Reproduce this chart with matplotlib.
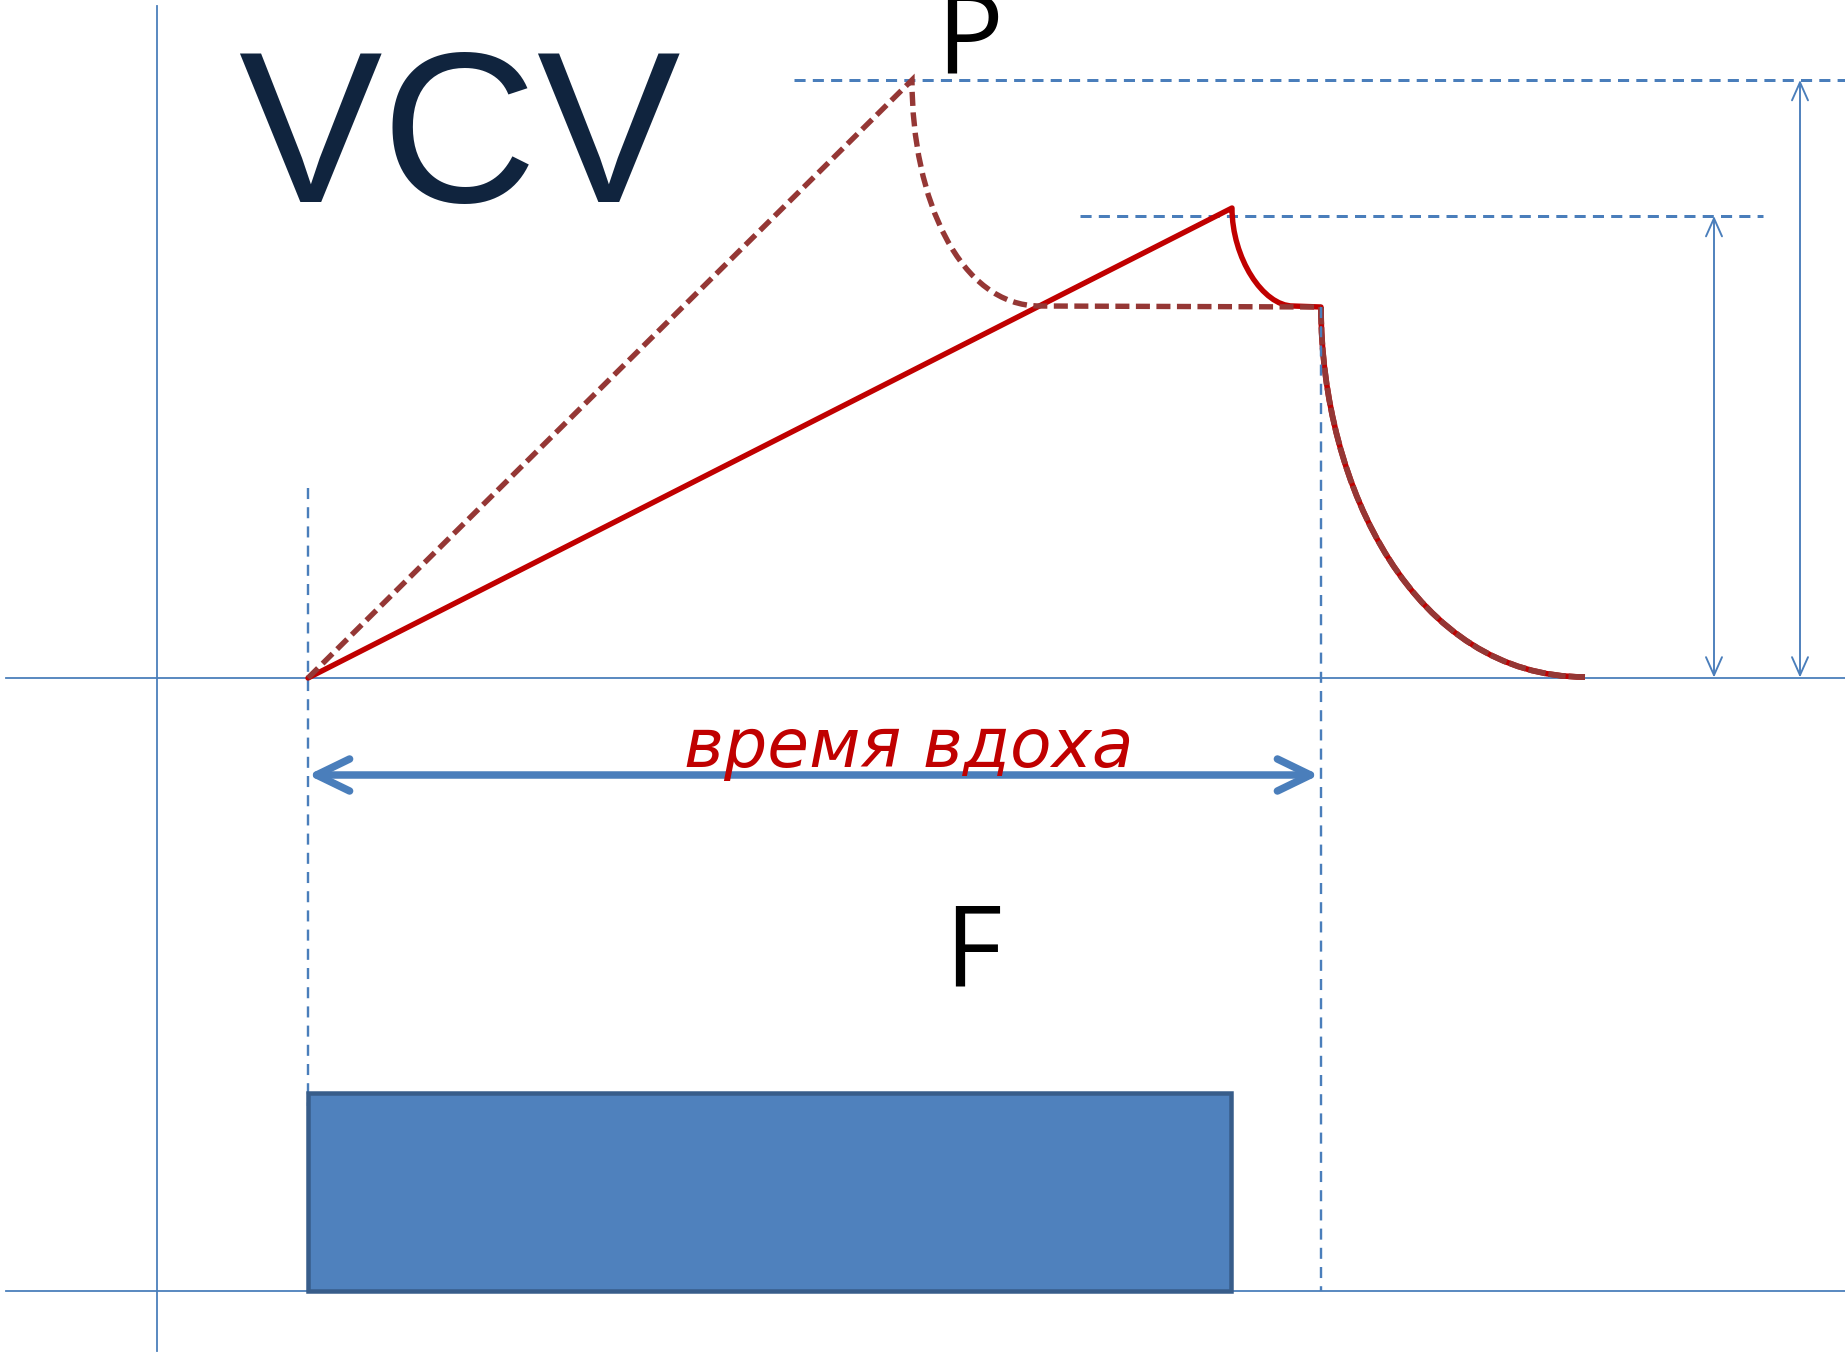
import matplotlib
matplotlib.use("Agg")
import matplotlib.pyplot as plt
from matplotlib.patches import Rectangle, FancyArrowPatch, ArrowStyle, PathPatch
from matplotlib.path import Path

# ---- values (pixel frame: x to the right, y downward) ----
W, H = 1845, 1355

axis_x = 157                     # left vertical axis
axis_y_span = [6, 1351]
p_base_y = 677.5                 # pressure baseline
f_base_y = 1291                  # flow baseline
base_x_span = [6, 1845]

insp_start_x = 308               # start of inspiration
insp_end_x = 1321                # end of inspiration
start_guide_y = [488, 1106]
end_guide_y = [307, 1291]

ppeak_guide = dict(y=80, x=[794, 1845])     # peak pressure guide
pip_guide = dict(y=216, x=[1080, 1763])     # second peak guide

# dashed (dark red) pressure curve: nodes and Bezier control points
dashed_x = [308, 912, 912, 960, 1040, 1321]
dashed_y = [678, 80, 200, 306, 306, 307]
dashed_kind = ["M", "L", "C", "C", "C", "L"]

# solid (red) pressure curve
solid_x = [308, 1232, 1232, 1263, 1293, 1321]
solid_y = [678, 208, 258, 306, 306, 307]
solid_kind = ["M", "L", "C", "C", "C", "L"]

# expiration curve (common to both)
exh_x = [1321, 1321, 1415, 1585]
exh_y = [307, 487, 677, 677]
exh_kind = ["M", "C", "C", "C"]

# amplitude arrows
amp_arrows_x = [1714, 1800]
amp_arrows_top = [216, 80]

# inspiration time arrow
time_arrow_y = 775
time_arrow_x = [308, 1319]

# flow block
flow_x = [308, 1231]
flow_top = 1093

labels = dict(title="VCV", p="P", f="F", time="время вдоха")

BLUE = "#4A7EBB"
RED = "#C00000"
DRED = "#953735"

px = 0.72  # points per pixel at dpi 100
CODES = {"M": Path.MOVETO, "L": Path.LINETO, "C": Path.CURVE4}


def make_path(xs, ys, kinds):
    return Path(list(zip(xs, ys)), [CODES[k] for k in kinds])


fig = plt.figure(figsize=(W / 100, H / 100), dpi=100)
ax = fig.add_axes([0, 0, 1, 1])
ax.set_xlim(0, W)
ax.set_ylim(H, 0)
ax.axis("off")

# axes / baselines
ax.plot([axis_x, axis_x], axis_y_span, color=BLUE, lw=1.8 * px, zorder=1)
ax.plot(base_x_span, [p_base_y, p_base_y], color=BLUE, lw=1.8 * px, zorder=1)
ax.plot(base_x_span, [f_base_y, f_base_y], color=BLUE, lw=1.8 * px, zorder=1)

# guides
vdash = (0, (4.6, 3.4))
ax.plot([insp_start_x, insp_start_x], start_guide_y, color=BLUE, lw=2.4 * px, ls=vdash, zorder=2)
ax.plot([insp_end_x, insp_end_x], end_guide_y, color=BLUE, lw=2.4 * px, ls=vdash, zorder=8)
hdash = (0, (3.7, 2.4))
for g in (ppeak_guide, pip_guide):
    ax.plot(g["x"], [g["y"], g["y"]], color=BLUE, lw=3.0 * px, ls=hdash, zorder=2)

# flow block
ax.add_patch(Rectangle((flow_x[0], flow_top), flow_x[1] - flow_x[0], f_base_y - flow_top,
                       facecolor="#4F81BD", edgecolor="#385D8A", lw=4.5 * px, zorder=4))

# pressure curves
ax.add_patch(PathPatch(make_path(solid_x, solid_y, solid_kind), fill=False, edgecolor=RED,
                       lw=5.4 * px, joinstyle="round", capstyle="round", zorder=5))
ax.add_patch(PathPatch(make_path(exh_x, exh_y, exh_kind), fill=False, edgecolor=RED,
                       lw=5.6 * px, zorder=5))
ax.add_patch(PathPatch(make_path(dashed_x, dashed_y, dashed_kind), fill=False, edgecolor=DRED,
                       lw=5.4 * px, ls=(0, (2.6, 1.2)), zorder=6))
ax.add_patch(PathPatch(make_path(exh_x, exh_y, exh_kind), fill=False, edgecolor=DRED,
                       lw=5.8 * px, ls=(0, (3.0, 0.5)), zorder=6))

# amplitude arrows
for x, top in zip(amp_arrows_x, amp_arrows_top):
    arr = FancyArrowPatch((x, top), (x, p_base_y),
                          arrowstyle=ArrowStyle("<->", head_length=18 * px, head_width=8 * px),
                          mutation_scale=1, color=BLUE, lw=1.9 * px,
                          shrinkA=0, shrinkB=0, zorder=3)
    ax.add_patch(arr)

# time arrow
tarr = FancyArrowPatch((time_arrow_x[0], time_arrow_y), (time_arrow_x[1], time_arrow_y),
                       arrowstyle=ArrowStyle("<->", head_length=33 * px, head_width=16 * px),
                       mutation_scale=1, color=BLUE, lw=7.5 * px, capstyle="round",
                       joinstyle="round", shrinkA=0, shrinkB=0, zorder=3)
ax.add_patch(tarr)

# texts
ax.text(238, 202, labels["title"], fontsize=155, family="Liberation Sans",
        color="#10243E", ha="left", va="baseline", zorder=9)
ax.text(936, 73, labels["p"], fontsize=80, family="Open Sans",
        color="black", ha="left", va="baseline", zorder=9)
ax.text(944, 986, labels["f"], fontsize=80, family="Open Sans",
        color="black", ha="left", va="baseline", zorder=9)
ax.text(909, 767, labels["time"], fontsize=49, family="DejaVu Sans", style="italic",
        color=RED, ha="center", va="baseline", zorder=9)

fig.savefig("out.png", dpi=100, facecolor="white")
